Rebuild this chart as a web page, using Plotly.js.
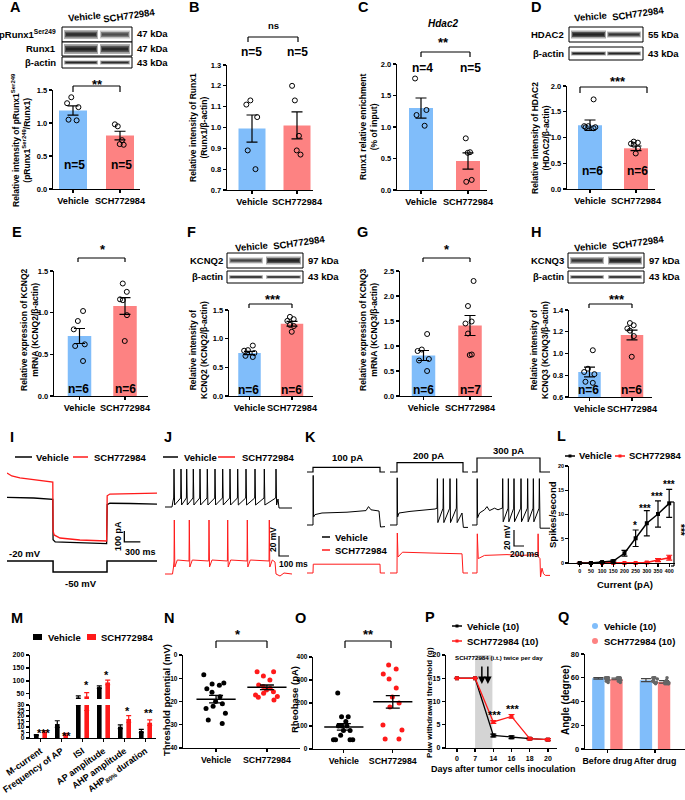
<!DOCTYPE html>
<html><head><meta charset="utf-8">
<script src="https://cdn.plot.ly/plotly-3.0.1.min.js"></script>
<style>html,body{margin:0;padding:0;background:#fff}#chart{width:685px;height:800px}</style>
</head><body><div id="chart"></div>
<script>
// ---------------- DATA ----------------
const groups = ['Vehicle','SCH772984'];
// A
const aMean=[1.19,0.81], aSem=[0.07,0.065];
const aVehPts=[1.39,1.30,1.24,1.05,1.04], aSchPts=[0.98,0.95,0.74,0.68,0.67];
// B
const bMean=[0.995,1.01], bSem=[0.065,0.065];
const bVehPts=[1.13,1.11,1.05,0.89,0.80], bSchPts=[1.20,1.13,0.96,0.89,0.87];
// C
const cMean=[1.30,0.46], cSem=[0.16,0.13];
const cVehPts=[1.77,1.27,1.19,1.02], cSchPts=[0.82,0.60,0.59,0.16,0.13];
// D
const dMean=[1.24,0.79], dSem=[0.10,0.045];
const dVehPts=[1.74,1.22,1.22,1.20,1.20,1.18], dSchPts=[0.92,0.90,0.88,0.86,0.79,0.69];
// E
const eMean=[0.72,1.08], eSem=[0.09,0.10];
const eVehPts=[1.02,0.90,0.80,0.62,0.60,0.42], eSchPts=[1.35,1.25,1.16,1.15,0.97,0.66];
// F
const fMean=[0.75,1.26], fSem=[0.03,0.04];
const fVehPts=[0.88,0.80,0.79,0.75,0.70,0.68], fSchPts=[1.38,1.34,1.31,1.24,1.22,1.12];
// G
const gMean=[0.81,1.41], gSem=[0.10,0.20];
const gVehPts=[1.24,0.93,0.90,0.74,0.71,0.50], gSchPts=[2.30,1.80,1.49,1.45,1.25,0.83,0.82];
// H
const hMean=[0.83,1.17], hSem=[0.045,0.045];
const hVehPts=[1.03,0.86,0.83,0.81,0.74,0.73], hSchPts=[1.28,1.26,1.23,1.21,1.16,0.97];
// I (time ms, current pA / command mV)
const iTimeVeh=[0,500,855,860,900,1300,1860,1870,1920,2300,2800];
const iCurVeh=[6,0,-12,-380,-400,-408,-415,-60,-48,-50,-55];
const iTimeSch=[0,90,240,520,855,860,880,990,1360,1860,1870,1920,2300,2800];
const iCurSch=[227,200,182,164,145,-300,-336,-364,-382,-391,20,36,40,45];
const iCmdTime=[0,860,860,1867,1867,2800];
const iCmdMv=[-20,-20,-50,-50,-20,-20];
const iScaleT=[2190,2190,2490], iScaleI=[-300,-400,-400];
// J (spike times ms, levels mV)
const jVehSpikes=[90,160,217,283,350,423,500,577,650,727,810,900,993,1110];
const jVehHead=[[0,-65],[70,-65],[80,-59]], jVehTail=[[1130,-57],[1140,-66],[1270,-66]];
const jVehShapeT=[-3,0,6], jVehShapeV=[-56,-27,-63];
const jSchSpikes=[93,243,440,627,823,1043];
const jSchHead=[[0,-64],[75,-64],[85,-57]], jSchTail=[[1100,-52],[1110,-64],[1150,-66],[1190,-63],[1270,-64]];
const jSchShapeT=[-3,0,5,30], jSchShapeV=[-51,-10,-57,-50];
const jScaleT=[1140,1140,1240], jScaleV=[-26,-46,-46];
// K (three sweeps: 100, 200, 300 pA)
const kCmd=[100,200,300], kOn=[120,140,100], kOff=[1460,1460,1360];
const kVeh1T=[0,120,121,124,132,160,300,800,1180,1230,1280,1440,1460,1470,1560];
const kVeh1V=[-65,-65,-30,-3,-55,-52,-50,-49,-47,-42,-46,-47.5,-67,-67.5,-67];
const kVeh2Head=[[0,-65],[140,-65],[141,-30],[144,-6],[152,-55],[180,-50],[400,-48],[900,-45]];
const kVeh2Spikes=[947,1067,1200,1333];
const kVeh2Tail=[[1440,-50],[1467,-68],[1560,-68]];
const kVeh3Head=[[0,-65],[100,-65],[101,-30],[104,-7],[112,-56],[150,-50],[250,-46],[300,-42],[350,-47],[450,-44],[520,-46],[600,-44]];
const kVeh3Spikes=[614,727,840,980,1113,1227,1347];
const kVeh3Tail=[[1362,-69],[1560,-69]];
const kSpikeT=[-6,0,10], kSpikeV=[-44,-7,-62];
const kSch1T=[0,120,125,1460,1465,1560], kSch1V=[-65,-65,-54,-54,-65,-65];
const kSch2T=[0,140,142,146,160,250,800,1440,1460,1560];
const kSch2V=[-65,-65,-40,-15,-45,-39,-40,-41,-65,-65];
const kSch3T=[0,100,102,106,125,250,700,1000,1310,1318,1322,1330,1360,1370,1400,1430,1470,1560];
const kSch3V=[-65,-65,-40,-16,-47,-43,-42,-43,-42,-40,-16,-45,-47,-70,-59,-66,-68,-68];
const kScaleT=[840,840,1040], kScaleV=[-11.25,-31.25,-31.25];
// L
const lCurrent=[0,50,100,150,200,250,300,350,400];
const lVeh=[0,0,0.2,0.4,2.0,5.1,8.2,10.1,12.3], lVehErr=[0,0,0.1,0.2,0.6,1.7,2.6,2.7,2.9];
const lSch=[0,0,0,0,0,0,0.1,0.6,1.1], lSchErr=[0,0,0,0,0,0,0.1,0.3,0.5];
// M
const mCats=['M-current','Frequency of AP','ISI','AP amplitude','AHP amplitude','AHP<sub>80%</sub> duration'];
const mVeh=[2.7,12.7,36,76,10.3,6.4], mVehSem=[0.5,3,6,5,1.7,1.5];
const mSch=[5.8,3.3,40,94,17.3,13.9], mSchSem=[1,1,15,9,3,2.5];
// N
const nVehPts=[-8.5,-12,-12.5,-13,-14.5,-16,-18,-20,-21,-22,-23,-25,-28,-29.5];
const nSchPts=[-7.2,-7.2,-9,-10.8,-12.9,-13.6,-14.3,-15.1,-15.8,-16.5,-17.2,-17.9,-18.2,-19.4];
const nMean=[-19.0,-13.9], nSem=[1.6,1.0];
// O
const oVehPts=[243,140,140,120,100,100,100,80,80,60,40,40,40,40];
const oSchPts=[365,348,326,304,265,226,200,183,104,83,43,43];
const oMean=[96,205], oSem=[14,27];
// P
const pDays=['0','7','14','16','18','20'];
const pVeh=[15,15,2.7,2.3,2.0,1.8], pVehErr=[0,0,0.3,0.3,0.2,0.2];
const pSch=[15,15,5.6,6.8,2.0,1.8], pSchErr=[0,0,0.3,0.4,0.2,0.2];
// Q
const qGroups=['Before drug','After drug'];
const qVehMean=[59.5,58.0], qVehSem=[0.6,1.3], qSchMean=[59.0,56.5], qSchSem=[0.7,1.0];
const qVehBefore=[60,60,60,60,60,59,59,58,57,56], qVehAfter=[60,60,60,60,59,58,57,56,56,55];
const qSchBefore=[60,60,60,60,59,59,59,58,57,56], qSchAfter=[60,58,57,57,56,56,55,55,55,55];

// ---------------- HELPERS ----------------
const F='"Liberation Sans", Arial, sans-serif';
const BLUE='#80bdfa', SALMON='#fd8282', RED='#ff1a1a';
const W=685,H=800;
const px=x=>x/W, py=y=>1-y/H;
const dx=(a,b)=>[px(a),px(b)], dy=(t,b)=>[py(b),py(t)];
const layout={width:W,height:H,margin:{l:0,r:0,t:0,b:0},paper_bgcolor:'#fff',plot_bgcolor:'rgba(0,0,0,0)',
  showlegend:false,hovermode:false,barmode:'overlay',boxmode:'group',boxgap:0.24,boxgroupgap:0.3,
  annotations:[],shapes:[],font:{family:F,color:'#000'}};
const data=[];
let nX=0,nY=0;
function addX(o){nX++;const id=nX===1?'x':'x'+nX;layout['xaxis'+(nX===1?'':nX)]=o;return id;}
function addY(o){nY++;const id=nY===1?'y':'y'+nY;layout['yaxis'+(nY===1?'':nY)]=o;return id;}
const ak=id=>(id[0]==='x'?'xaxis':'yaxis')+id.slice(1);
function link(xid,yid){layout[ak(xid)].anchor=yid;layout[ak(yid)].anchor=xid;}
function fnt(size,extra){return Object.assign({family:F,size:size,weight:'bold',color:'#000'},extra||{});}
function vis(o){return Object.assign({showline:true,linecolor:'#000',linewidth:1.3,ticks:'outside',ticklen:3,tickwidth:1.3,tickcolor:'#000',showgrid:false,zeroline:false,fixedrange:true,tickangle:0,tickfont:fnt(7.5)},o);}
function hid(o){return Object.assign({visible:false,fixedrange:true,showgrid:false,zeroline:false},o);}
function txt(t,x,y,size,o){layout.annotations.push(Object.assign({text:t,x:px(x),y:py(y),xref:'paper',yref:'paper',showarrow:false,xanchor:'center',yanchor:'middle',font:fnt(size)},o||{}));}
function line(x0,y0,x1,y1,color,w){layout.shapes.push({type:'line',xref:'paper',yref:'paper',x0:px(x0),y0:py(y0),x1:px(x1),y1:py(y1),line:{color:color||'#000',width:w||1.2}});}
function rect(x0,y0,x1,y1,fill,lc,lw){layout.shapes.push({type:'rect',xref:'paper',yref:'paper',x0:px(x0),y0:py(y0),x1:px(x1),y1:py(y1),fillcolor:fill||'rgba(0,0,0,0)',line:{color:lc||'rgba(0,0,0,0)',width:lw||0}});}
function circ(xc,yc,r,fill){layout.shapes.push({type:'circle',xref:'paper',yref:'paper',x0:px(xc-r),y0:py(yc+r),x1:px(xc+r),y1:py(yc-r),fillcolor:fill,line:{width:0}});}
function bracket(x0,x1,yt,yb){line(x0,yb,x0,yt);line(x0,yt,x1,yt);line(x1,yt,x1,yb);}
function star(t,x,y,size){const s=size||13;txt(t,x,y+s*0.22,s);}
function band(x0,x1,yc,h,d){rect(x0,yc-h/2,x1,yc+h/2,'rgba(0,0,0,'+(0.35*d)+')');rect(x0+1,yc-h*0.32,x1-1,yc+h*0.32,'rgba(0,0,0,'+(0.55*d)+')');rect(x0+2,yc-h*0.15,x1-2,yc+h*0.15,'rgba(0,0,0,'+(0.6*d)+')');}
function frame(x0,y0,x1,y1){rect(x0,y0,x1,y1,'#fff','#000',1);}
function buildTrace(head,spikes,shT,shV,tail){const t=[],v=[];head.forEach(p=>{t.push(p[0]);v.push(p[1]);});spikes.forEach(s=>{shT.forEach((d,i)=>{t.push(s+d);v.push(shV[i]);});});tail.forEach(p=>{t.push(p[0]);v.push(p[1]);});return {t,v};}
function trace(x,y,xid,yid,color,w){data.push({type:'scatter',mode:'lines',x:x,y:y,xaxis:xid,yaxis:yid,line:{color:color,width:w||1},hoverinfo:'skip'});}

// ---------------- BAR PANELS A-H ----------------
function barPanel(g,mean,sem,vehPts,schPts){
  const sp=g.c1-g.c0;
  const xid=addX(vis({type:'category',domain:dx(g.ax,g.xEnd),range:[(g.ax-g.c0)/sp,(g.xEnd-g.c0)/sp],tickfont:fnt(9.2)}));
  const yid=addY(vis({domain:dy(g.yTop,g.yBot),range:g.yr,tick0:g.yr[0],dtick:g.dt,tickformat:'.1f'}));
  link(xid,yid);
  data.push({type:'bar',x:groups,y:mean,width:g.bw/sp,xaxis:xid,yaxis:yid,marker:{color:[BLUE,SALMON],line:{width:0}},
    error_y:{type:'data',array:sem,visible:true,color:'#000',thickness:1.2,width:5.5},hoverinfo:'skip'});
  data.push({type:'box',x:vehPts.map(()=>groups[0]).concat(schPts.map(()=>groups[1])),y:vehPts.concat(schPts),
    xaxis:xid,yaxis:yid,boxpoints:'all',jitter:0.56,pointpos:0,fillcolor:'rgba(0,0,0,0)',line:{width:0,color:'rgba(0,0,0,0)'},
    marker:{symbol:'circle-open',size:5,color:'#000',line:{width:1}},hoverinfo:'skip'});
}
const gA={ax:53,c0:73,c1:120,xEnd:140,bw:28,yTop:90,yBot:189,yr:[0,1.5],dt:0.5};
const gB={ax:227,c0:252,c1:297,xEnd:313,bw:27,yTop:65,yBot:190,yr:[0.7,1.3],dt:0.1};
const gC={ax:397,c0:421,c1:468,xEnd:487,bw:24,yTop:64,yBot:190,yr:[0,2],dt:0.5};
const gD={ax:567,c0:590,c1:636,xEnd:655,bw:24,yTop:86,yBot:189,yr:[0,2],dt:0.5};
const gE={ax:54,c0:79.5,c1:125,xEnd:148,bw:23.5,yTop:271,yBot:396,yr:[0,1.5],dt:0.5};
const gF={ax:229,c0:249.5,c1:292,xEnd:313,bw:22.5,yTop:310,yBot:396,yr:[0,1.5],dt:0.5};
const gG={ax:400,c0:423.5,c1:470,xEnd:492,bw:23.5,yTop:271,yBot:396,yr:[0,2.5],dt:0.5};
const gH={ax:569,c0:589.5,c1:632,xEnd:652,bw:22.5,yTop:310,yBot:397,yr:[0.6,1.4],dt:0.2};
barPanel(gA,aMean,aSem,aVehPts,aSchPts);
barPanel(gB,bMean,bSem,bVehPts,bSchPts);
barPanel(gC,cMean,cSem,cVehPts,cSchPts);
barPanel(gD,dMean,dSem,dVehPts,dSchPts);
barPanel(gE,eMean,eSem,eVehPts,eSchPts);
barPanel(gF,fMean,fSem,fVehPts,fSchPts);
barPanel(gG,gMean,gSem,gVehPts,gSchPts);
barPanel(gH,hMean,hSem,hVehPts,hSchPts);

// ---------------- I ----------------
const xI=addX(hid({domain:dx(7,157),range:[0,2800]}));
const yI=addY(hid({domain:dy(465,550),range:[-473,300]}));
const yIc=addY(hid({domain:dy(555,578),range:[-66.4,-3.6]}));
link(xI,yI); layout[ak(yIc)].anchor=xI;
trace(iTimeVeh,iCurVeh,xI,yI,'#000',1.3);
trace(iTimeSch,iCurSch,xI,yI,RED,1.3);
trace(iCmdTime,iCmdMv,xI,yIc,'#000',1.5);
trace(iScaleT,iScaleI,xI,yI,'#000',1.3);

// ---------------- J ----------------
const xJ=addX(hid({domain:dx(165,292),range:[0,1270]}));
const yJb=addY(hid({domain:dy(462,515),range:[-73,-20]}));
const yJr=addY(hid({domain:dy(515,585),range:[-75,-5]}));
link(xJ,yJb); layout[ak(yJr)].anchor=xJ;
const jv=buildTrace(jVehHead,jVehSpikes,jVehShapeT,jVehShapeV,jVehTail);
const js=buildTrace(jSchHead,jSchSpikes,jSchShapeT,jSchShapeV,jSchTail);
trace(jv.t,jv.v,xJ,yJb,'#000',1);
trace(js.t,js.v,xJ,yJr,RED,1);
trace(jScaleT,jScaleV,xJ,yJr,'#000',1.2);

// ---------------- K ----------------
const xK=[addX(hid({domain:dx(307,385),range:[0,1560]})),addX(hid({domain:dx(390,468),range:[0,1560]})),addX(hid({domain:dx(472,550),range:[0,1560]}))];
const yKc=addY(hid({domain:dy(450,478),range:[-128,471]}));
const yKb=addY(hid({domain:dy(468,535),range:[-77.5,6.25]}));
const yKr=addY(hid({domain:dy(525,585),range:[-80,-5]}));
xK.forEach(x=>{layout[ak(x)].anchor=yKc;});
layout[ak(yKc)].anchor=xK[0];layout[ak(yKb)].anchor=xK[0];layout[ak(yKr)].anchor=xK[0];
kCmd.forEach((c,i)=>{trace([0,kOn[i],kOn[i],kOff[i],kOff[i],1560],[0,0,c,c,0,0],xK[i],yKc,'#000',1.2);});
trace(kVeh1T,kVeh1V,xK[0],yKb,'#000',1);
const kv2=buildTrace(kVeh2Head,kVeh2Spikes,kSpikeT,kSpikeV,kVeh2Tail);
const kv3=buildTrace(kVeh3Head,kVeh3Spikes,kSpikeT,[-44,-7,-61],kVeh3Tail);
trace(kv2.t,kv2.v,xK[1],yKb,'#000',1);
trace(kv3.t,kv3.v,xK[2],yKb,'#000',1);
trace(kSch1T,kSch1V,xK[0],yKr,RED,1);
trace(kSch2T,kSch2V,xK[1],yKr,RED,1);
trace(kSch3T,kSch3V,xK[2],yKr,RED,1);
trace(kScaleT,kScaleV,xK[2],yKr,'#000',1.2);

// ---------------- L ----------------
const xL=addX(vis({domain:dx(569,675),range:[-48,426],tickvals:lCurrent,tickfont:fnt(5.3),ticklen:2.5}));
const yL=addY(vis({domain:dy(466,563),range:[0,20],dtick:5,tickfont:fnt(5.5),ticklen:2.5}));
link(xL,yL);
data.push({type:'scatter',mode:'lines+markers',x:lCurrent,y:lSch,xaxis:xL,yaxis:yL,cliponaxis:false,line:{color:RED,width:1.5},marker:{symbol:'square',size:4,color:RED},error_y:{type:'data',array:lSchErr,color:RED,thickness:1.2,width:3},hoverinfo:'skip'});
data.push({type:'scatter',mode:'lines+markers',x:lCurrent,y:lVeh,xaxis:xL,yaxis:yL,cliponaxis:false,line:{color:'#000',width:1.5},marker:{symbol:'square',size:4,color:'#000'},error_y:{type:'data',array:lVehErr,color:'#000',thickness:1.2,width:3},hoverinfo:'skip'});

// ---------------- M ----------------
const xM=addX(vis({type:'category',domain:dx(30,156),range:[-0.5,5.5],tickangle:-35,tickfont:fnt(9)}));
const yMl=addY(vis({domain:dy(705,738),range:[0,30],dtick:5,tickfont:fnt(6.5)}));
const yMu=addY(vis({domain:dy(655,699),range:[30,200],tickvals:[50,100,150,200],tickfont:fnt(7)}));
link(xM,yMl); layout[ak(yMu)].anchor=xM;
[yMl,yMu].forEach(yid=>{
  data.push({type:'bar',x:mCats,y:mVeh,width:0.22,offset:-0.31,xaxis:xM,yaxis:yid,marker:{color:'#000'},error_y:{type:'data',array:mVehSem,color:'#000',thickness:1.2,width:2.5},hoverinfo:'skip'});
  data.push({type:'bar',x:mCats,y:mSch,width:0.22,offset:0.09,xaxis:xM,yaxis:yid,marker:{color:RED},error_y:{type:'data',array:mSchSem,color:RED,thickness:1.2,width:2.5},hoverinfo:'skip'});
});

// ---------------- N & O ----------------
function dotPanel(dom,yax,vehPts,schPts,mean,sem,og){
  const xid=addX(vis({type:'category',domain:dx(dom[0],dom[1]),range:dom[2],tickfont:fnt(8.8)}));
  const yid=addY(vis(yax));
  link(xid,yid);
  data.push({type:'box',x:vehPts.map(()=>groups[0]),y:vehPts,xaxis:xid,yaxis:yid,offsetgroup:og,boxpoints:'all',jitter:1,pointpos:0,fillcolor:'rgba(0,0,0,0)',line:{width:0,color:'rgba(0,0,0,0)'},marker:{symbol:'circle',size:5,color:'#000'},hoverinfo:'skip'});
  data.push({type:'box',x:schPts.map(()=>groups[1]),y:schPts,xaxis:xid,yaxis:yid,offsetgroup:og,boxpoints:'all',jitter:1,pointpos:0,fillcolor:'rgba(0,0,0,0)',line:{width:0,color:'rgba(0,0,0,0)'},marker:{symbol:'circle',size:5,color:RED},hoverinfo:'skip'});
  data.push({type:'scatter',mode:'markers',x:groups,y:mean,xaxis:xid,yaxis:yid,cliponaxis:false,marker:{symbol:'line-ew-open',size:28,color:'#000',line:{width:1.5,color:'#000'}},error_y:{type:'data',array:sem,color:'#000',thickness:1.3,width:7},hoverinfo:'skip'});
}
dotPanel([183,300,[-0.65,1.65]],{domain:dy(655,748),range:[-40,0],tickvals:[0,-10,-20,-30,-40],ticktext:['0','-10','-20','-30','-40'],tickfont:fnt(6.5)},nVehPts,nSchPts,nMean,nSem,'n');
dotPanel([313,430,[-0.63,1.76]],{domain:dy(657,749),range:[0,400],dtick:100,tickfont:fnt(6.5)},oVehPts,oSchPts,oMean,oSem,'o');

// ---------------- P ----------------
const xP=addX(vis({type:'category',domain:dx(446,557),range:[-0.6,5.5],tickfont:fnt(7)}));
const yP=addY(vis({domain:dy(655,748),range:[0,20],dtick:5,tickfont:fnt(7)}));
link(xP,yP);
layout.shapes.push({type:'rect',xref:xP,yref:'paper',x0:1,x1:1.95,y0:py(748),y1:py(655),fillcolor:'#d4d4d4',line:{width:0},layer:'below'});
data.push({type:'scatter',mode:'lines+markers',x:pDays,y:pVeh,xaxis:xP,yaxis:yP,cliponaxis:false,line:{color:'#000',width:1.3},marker:{symbol:'square',size:4,color:'#000'},error_y:{type:'data',array:pVehErr,color:'#000',thickness:1.2,width:3},hoverinfo:'skip'});
data.push({type:'scatter',mode:'lines+markers',x:pDays,y:pSch,xaxis:xP,yaxis:yP,cliponaxis:false,line:{color:RED,width:1.3},marker:{symbol:'square',size:4,color:RED},error_y:{type:'data',array:pSchErr,color:RED,thickness:1.2,width:3},hoverinfo:'skip'});
[1.37,1.70].forEach(xa=>{layout.annotations.push({x:xa,y:py(684),xref:xP,yref:'paper',text:'',showarrow:true,arrowhead:2,arrowsize:1,arrowwidth:1.5,arrowcolor:'#000',ax:0,ay:-19});});

// ---------------- Q ----------------
const xQ=addX(vis({type:'category',domain:dx(585,685),range:[-0.47,1.63],tickfont:fnt(8.8)}));
const yQ=addY(vis({domain:dy(654,749),range:[0,80],dtick:20,tickfont:fnt(7.5)}));
link(xQ,yQ);
data.push({type:'bar',x:qGroups,y:qVehMean,width:0.26,offset:-0.32,xaxis:xQ,yaxis:yQ,marker:{color:BLUE},error_y:{type:'data',array:qVehSem,color:'#444',thickness:1.2,width:5},hoverinfo:'skip'});
data.push({type:'bar',x:qGroups,y:qSchMean,width:0.26,offset:0.06,xaxis:xQ,yaxis:yQ,marker:{color:SALMON},error_y:{type:'data',array:qSchSem,color:'#444',thickness:1.2,width:5},hoverinfo:'skip'});
data.push({type:'box',x:qVehBefore.map(()=>qGroups[0]).concat(qVehAfter.map(()=>qGroups[1])),y:qVehBefore.concat(qVehAfter),xaxis:xQ,yaxis:yQ,offsetgroup:'qv',boxpoints:'all',jitter:0.75,pointpos:0,fillcolor:'rgba(0,0,0,0)',line:{width:0,color:'rgba(0,0,0,0)'},marker:{symbol:'circle',size:3.5,color:'#666'},hoverinfo:'skip'});
data.push({type:'box',x:qSchBefore.map(()=>qGroups[0]).concat(qSchAfter.map(()=>qGroups[1])),y:qSchBefore.concat(qSchAfter),xaxis:xQ,yaxis:yQ,offsetgroup:'qs',boxpoints:'all',jitter:0.75,pointpos:0,fillcolor:'rgba(0,0,0,0)',line:{width:0,color:'rgba(0,0,0,0)'},marker:{symbol:'circle',size:3.5,color:'#666'},hoverinfo:'skip'});

// ---------------- TEXT & DECORATION ----------------
[['A',15,7],['B',194,7],['C',363,7],['D',536,7],['E',17,232],['F',191,232],['G',362,232],['H',536,232],
 ['I',12,437],['J',168,437],['K',310,437],['L',561,436],['M',17,618],['N',169,618],['O',300,618],['P',430,617],['Q',563,617]]
 .forEach(l=>txt(l[0],l[1],l[2],14.5));

// blots
frame(62,27,132,42);frame(62,42,132,56);frame(62,57,132,68);
band(64,98,34.5,9,0.85);band(100,130,34.5,8,0.65);
band(64,98,49,10,0.95);band(100,130,49,10,0.9);
band(64,98,62.5,4,0.9);band(100,130,62.5,4,0.85);
txt('Vehicle',84,16,9.5,{textangle:-5});txt('SCH772984',129,15,9.5,{textangle:-8});
txt('pRunx1<sup>Ser249</sup>',58,34,9.5,{xanchor:'right'});txt('Runx1',58,48,9.5,{xanchor:'right'});txt('β-actin',58,62,9.5,{xanchor:'right'});
txt('47 kDa',135,34,9.5,{xanchor:'left'});txt('47 kDa',135,48,9.5,{xanchor:'left'});txt('43 kDa',135,62,9.5,{xanchor:'left'});

frame(569,27,643,42);frame(569,47,643,60);
band(571,606,34.5,8,0.95);band(607,641,34.5,6,0.8);
band(571,606,53.5,4,0.95);band(607,641,53.5,4,0.9);
txt('Vehicle',590,16,9.5,{textangle:-5});txt('SCH772984',638,14,9.5,{textangle:-8});
txt('HDAC2',566,35,9.5,{xanchor:'right'});txt('β-actin',566,53,9.5,{xanchor:'right'});
txt('55 kDa',646,35,9.5,{xanchor:'left'});txt('43 kDa',646,53,9.5,{xanchor:'left'});

frame(227,253,303,268);frame(227,271,303,283);
band(229,263,260.5,6,0.7);band(266,301,260.5,8,0.95);
band(229,263,277,3.5,0.9);band(266,301,277,3.5,0.85);
txt('Vehicle',251,246,9.5,{textangle:-5});txt('SCH772984',299,243,9.5,{textangle:-8});
txt('KCNQ2',225,261,9.5,{xanchor:'right'});txt('β-actin',225,277,9.5,{xanchor:'right'});
txt('97 kDa',306,261,9.5,{xanchor:'left'});txt('43 kDa',306,277,9.5,{xanchor:'left'});

frame(568,253,644,268);frame(568,271,644,283);
band(570,604,260.5,7,0.8);band(608,642,260.5,8,0.95);
band(570,604,277,3.5,0.9);band(608,642,277,3.5,0.9);
txt('Vehicle',590,246,9.5,{textangle:-5});txt('SCH772984',638,243,9.5,{textangle:-8});
txt('KCNQ3',566,261,9.5,{xanchor:'right'});txt('β-actin',566,277,9.5,{xanchor:'right'});
txt('97 kDa',647,261,9.5,{xanchor:'left'});txt('43 kDa',647,277,9.5,{xanchor:'left'});

// y titles
const yt=(t,x,y,s)=>txt(t,x,y,s||8.5,{textangle:-90});
yt('Relative intensity of pRunx1<sup>Ser249</sup><br>(pRunx1<sup>Ser249</sup>/Runx1)',21,140);
yt('Relative intensity of Runx1<br>(Runx1/β-actin)',198,128);
yt('Runx1 relative enrichment<br>(% of input)',369,127);
yt('Relative intensity of HDAC2<br>(HDAC2/β-actin)',540,138);
yt('Relative expression of KCNQ2<br>mRNA (KCNQ2/β-actin)',29,330);
yt('Relative intensity of<br>KCNQ2 (KCNQ2/β-actin)',198,350);
yt('Relative expression of KCNQ3<br>mRNA (KCNQ3/β-actin)',368,330);
yt('Relative intensity of<br>KCNQ3 (KCNQ3/β-actin)',539,350);
yt('Spikes/second',552,515,9.5);
yt('Threshold potential (mV)',166,700,9.5);
yt('Rheobase (pA)',294,700,9.5);
yt('Paw withdrawal threshold (g)',429,703,8);
yt('Angle (degree)',565,700,10);
txt('Current (pA)',625,584,9.5);
txt('Days after tumor cells inoculation',503,769,9);

// significance
star('**',97,82); bracket(gA.c0,gA.c1,86,92);
txt('ns',273,25,9.5); bracket(248,298,37,42);
txt('<i>Hdac2</i>',443,23,10); star('**',443,40); bracket(421,470,52,57);
star('***',618,79); bracket(580,647,87,93);
star('*',103,247); bracket(78,125,258,262);
star('***',273,297); bracket(249,292,304,308);
star('*',447,247); bracket(423,470,258,262);
star('***',617,297); bracket(589,632,304,308);
[[74,165,'n=5'],[121,165,'n=5'],[252,52,'n=5'],[297,52,'n=5'],[422,68,'n=4'],[470,68,'n=5'],[592,171,'n=6'],[637,171,'n=6'],
 [78,389,'n=6'],[125,389,'n=6'],[248,390,'n=6'],[291,390,'n=6'],[423,390,'n=6'],[470,390,'n=7'],[588,390,'n=6'],[631,390,'n=6']]
 .forEach(n=>txt(n[2],n[0],n[1],12));

// I texts
line(15,457,32,457,'#000',1.5);txt('Vehicle',34,457,9.5,{xanchor:'left'});
line(73,457,88,457,RED,1.5);txt('SCH772984',92,457,9.5,{xanchor:'left'});
txt('-20 mV',25,553,9.5);txt('-50 mV',81,583,9.5);
txt('100 pA',118,536,9,{textangle:-90});txt('300 ms',140,552,9);
// J texts
line(163,457,178,457,'#000',1.5);txt('Vehicle',182,457,9.5,{xanchor:'left'});
line(218,457,235,457,RED,1.5);txt('SCH772984',240,457,9.5,{xanchor:'left'});
txt('20 mV',273,540,8.5,{textangle:-90});txt('100 ms',293,564,8.5);
// K texts
txt('100 pA',348,457,9.5);txt('200 pA',428,455,9.5);txt('300 pA',508,450,9.5);
line(322,537,330,537,'#000',1.5);txt('Vehicle',333,537,9.5,{xanchor:'left'});
line(322,550,330,550,RED,1.5);txt('SCH772984',333,550,9.5,{xanchor:'left'});
txt('20 mV',507,538,8.5,{textangle:-90});txt('200 ms',524,554,8.5);
// L legend & stars
line(565,456,575,456,'#000',1.5);rect(568.5,454.5,571.5,457.5,'#000');txt('Vehicle',577,456,9.5,{xanchor:'left'});
line(615,456,625,456,RED,1.5);rect(618.5,454.5,621.5,457.5,RED);txt('SCH772984',627,456,9.5,{xanchor:'left'});
star('*',635,523,10);star('***',645,506,10);star('***',657,494,10);star('***',669,482,10);
line(674,502,674,566);line(671,502,674,502);line(671,566,674,566);
txt('***',681,530,10,{textangle:90});
// M legend & stars
rect(33,634,42,640,'#000');txt('Vehicle',46,637,9.5,{xanchor:'left'});
rect(87,634,96,640,RED);txt('SCH772984',99,637,9.5,{xanchor:'left'});
star('***',44,731,11);star('**',66,734,11);star('*',86,683,11);star('*',106,673,11);star('*',127,709,11);star('**',148,711,11);
// N, O
star('*',238,632,13);bracket(216,267,641,648);
star('**',368,632,13);bracket(345,391,641,648);
// P
line(452,626,462,626,'#000',1.5);rect(455.5,624.5,458.5,627.5,'#000');txt('Vehicle (10)',465,626,9.5,{xanchor:'left'});
line(452,641,462,641,RED,1.5);rect(455.5,639.5,458.5,642.5,RED);txt('SCH772984 (10)',465,641,9.5,{xanchor:'left'});
txt('SCH772984 (i.t.) twice per day',499,657,6.2);
star('***',495,713,11);star('***',513,707,11);
// Q legend
circ(595,626,3,BLUE);txt('Vehicle (10)',602,626,9.5,{xanchor:'left'});
circ(595,641,3,SALMON);txt('SCH772984 (10)',602,641,9.5,{xanchor:'left'});

Plotly.newPlot('chart',data,layout,{staticPlot:true});
</script></body></html>
